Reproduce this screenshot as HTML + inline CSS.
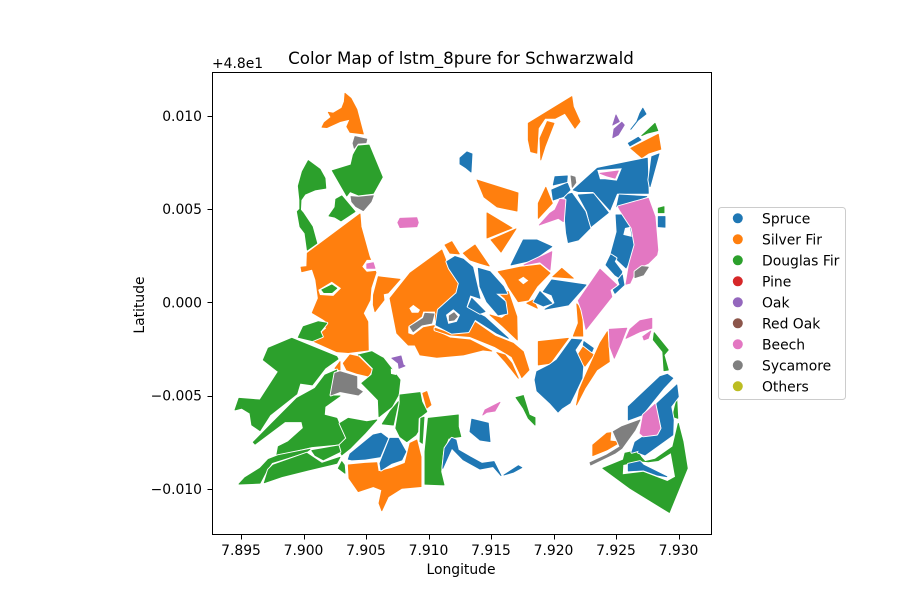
<!DOCTYPE html>
<html lang="en">
<head>
<meta charset="utf-8">
<title>Color Map of lstm_8pure for Schwarzwald</title>
<style>
html,body{margin:0;padding:0;background:#fff;}
#chart{display:block;width:900px;height:600px;font-family:"DejaVu Sans","Liberation Sans",sans-serif;fill:#000;}
.stand-edge{fill:none;stroke:#fff;stroke-width:2.8;stroke-linejoin:round;}
.stand{stroke-width:0.9;stroke-linejoin:round;}
.clearing{fill:#fff;stroke:none;}
</style>
</head>
<body>
<svg id="chart" xmlns="http://www.w3.org/2000/svg" width="900" height="600" viewBox="0 0 900 600">
  <g id="stands"></g>
  <rect x="212.5" y="72.5" width="499" height="462" fill="none" stroke="#000" stroke-width="1"/>
  <g id="ticks"></g>
  <text x="461" y="64" font-size="16.67" text-anchor="middle">Color Map of lstm_8pure for Schwarzwald</text>
  <text x="461" y="574" font-size="13.9" text-anchor="middle">Longitude</text>
  <text x="144" y="305" font-size="13.9" text-anchor="middle" transform="rotate(-90 144 305)">Latitude</text>
  <text x="212" y="68" font-size="13.9">+4.8e1</text>
  <g id="legend">
    <rect x="718.5" y="207.5" width="127" height="192" rx="3" ry="3" fill="#fff" stroke="#ccc" stroke-width="1"/>
  </g>
</svg>
<script>
/* All coordinates below are in thousandths of a degree:
   longitude offset from 7.900, latitude offset from 48.000, as flat lon,lat lists. */
const categories = ["Spruce","Silver Fir","Douglas Fir","Pine","Oak","Red Oak","Beech","Sycamore","Others"];
const categoryColors = ["#1f77b4","#ff7f0e","#2ca02c","#d62728","#9467bd","#8c564b","#e377c2","#7f7f7f","#bcbd22"];
const xTicks = [-5,0,5,10,15,20,25,30];
const xTickLabels = ["7.895","7.900","7.905","7.910","7.915","7.920","7.925","7.930"];
const yTicks = [-10,-5,0,5,10];
const yTickLabels = ["\u22120.010","\u22120.005","0.000","0.005","0.010"];
const xDomain = [-7.32,32.6];
const yDomain = [-12.41,12.35];

const silverFir = [
[3.32,11.21,3.80,10.94,4.26,10.35,4.78,9.03,3.72,9.12,3.46,9.42,3.72,9.82,2.92,9.69,1.86,9.37,1.48,9.39,1.66,9.64,2.20,9.93,1.98,10.19,2.38,10.14,3.06,10.41,3.26,10.76],
[4.52,4.74,4.60,4.06,5.26,2.45,5.80,1.60,5.40,0.78,5.32,0.13,4.78,-0.58,5.14,-1.03,5.18,-2.55,3.58,-2.69,2.66,-2.64,0.70,-2.05,1.86,-1.38,1.46,-1.12,1.86,-1.03,1.58,-0.90,0.70,-0.55,1.18,0.22,0.98,1.21,0.70,1.78,-0.14,1.65,-0.20,1.89,0.26,1.92,0.30,2.64],
[5.98,1.38,7.72,1.24,6.76,0.51,6.38,0.46,6.44,0.13,5.72,-0.49,5.58,-0.13,5.60,0.40],
[11.06,2.81,11.32,2.37,11.58,1.83,12.38,1.03,12.12,0.40,10.66,-0.67,10.38,-1.47,11.72,-1.90,13.32,-2.01,15.06,-2.60,14.38,-2.55,12.78,-2.81,10.66,-2.94,9.32,-2.81,8.92,-2.28,8.38,-2.28,7.46,-1.65,6.92,0.22,8.52,1.57],
[10.52,-1.38,11.86,-1.69,13.10,-1.62,13.66,-1.03,15.32,-1.80,16.78,-2.19,17.58,-2.64,18.04,-3.62,17.46,-4.03,16.66,-2.91,15.32,-2.37,13.32,-1.83,11.72,-1.74,10.52,-1.47],
[15.46,-2.69,16.12,-2.81,16.66,-3.26,17.18,-4.06,16.66,-3.62,16.12,-3.17],
[11.32,3.08,11.86,3.26,12.46,2.60,11.72,2.64],
[12.78,2.64,13.72,3.08,14.86,1.96,14.12,2.10,13.32,2.28],
[15.46,0.58,16.38,0.58,17.06,-0.76,17.10,-2.01,15.98,-1.30,14.92,-0.67,15.86,-0.85,16.38,-0.58,16.12,0.22],
[13.88,6.56,17.16,5.87,17.08,4.90,15.48,5.12,14.44,5.65],
[14.68,4.80,16.68,3.99,14.68,3.46],
[17.0,3.94,15.8,2.70,15.0,3.35],
[15.58,1.65,17.32,1.89,18.92,2.01,19.72,1.57,18.66,0.85,17.98,0.13,17.18,0.04,16.38,0.85,16.12,1.21],
[19.94,1.38,20.66,1.83,21.58,1.30],
[17.86,-0.04,18.38,0.13,18.70,-0.31],
[18.78,-2.10,21.18,-1.92,19.72,-3.26,18.78,-3.35],
[21.86,-2.91,22.38,-2.37,23.18,-2.81,22.52,-3.41],
[24.30,-1.57,24.46,-3.17,23.46,-3.62,22.52,-4.60,21.84,-5.49,22.06,-4.69,22.52,-3.98,23.72,-2.19],
[21.86,-0.08,22.26,-0.40,22.34,-1.80,21.58,-1.80,21.98,-1.11],
[17.98,9.60,21.46,11.03,21.58,10.49,22.12,9.69,21.72,9.34,20.92,10.14,20.12,9.87,19.32,9.87,18.78,9.34,18.66,8.00,18.18,8.08,17.98,8.71],
[19.50,9.69,20.04,9.60,19.32,8.35,18.98,7.64,18.92,8.80],
[28.38,9.01,28.58,8.21,27.58,8.00,27.06,7.76,26.18,8.26],
[19.38,6.17,19.90,5.32,18.78,4.51,18.78,5.32],
[23.14,-7.64,24.26,-7.01,24.58,-6.98,24.52,-7.42,25.32,-7.49,24.26,-7.91,23.14,-8.21],
[1.58,-2.87,2.46,-3.17,1.86,-3.53,1.58,-3.26],
[2.52,-3.53,2.92,-3.17,2.92,-3.62],
[3.18,-3.26,3.72,-2.81,4.38,-2.91,5.46,-3.62,5.18,-3.94,4.26,-3.80,3.46,-3.62],
[3.58,-8.71,4.92,-8.62,5.86,-8.59,5.98,-9.07,7.06,-8.89,8.12,-8.62,8.52,-7.55,9.06,-7.37,9.40,-8.27,9.40,-9.87,7.86,-9.96,6.78,-10.41,6.26,-11.16,6.04,-10.76,6.26,-10.05,5.58,-9.87,4.38,-10.14,3.64,-9.42],
[9.54,-4.87,9.86,-4.78,10.20,-5.49,9.86,-5.67]
];
const silverFirClearings = [
[4.70,1.92,5.06,2.28,5.72,2.28,5.86,1.70,5.06,1.65],
[1.18,0.67,2.26,1.11,3.0,0.76,2.38,0.35,1.32,0.40],
[8.38,-1.30,9.46,-0.76,9.58,-0.49,10.52,-0.49,10.52,-1.21,9.58,-1.33,8.78,-1.74,8.38,-1.65],
[8.46,-0.31,8.78,-0.13,9.32,-0.40,9.18,-0.55,8.66,-0.55],
[17.18,1.21,17.58,1.38,17.98,1.17,17.58,0.98]
];
const douglasFir = [
[4.38,8.39,5.24,8.43,6.30,6.71,5.58,5.85,4.38,5.76,3.72,5.94,3.46,5.71,2.30,7.06,3.80,7.37,3.98,7.91],
[3.06,5.71,4.12,4.87,3.0,4.37,2.52,4.57,2.04,4.64,2.52,5.10,2.58,5.53],
[0.38,7.60,1.32,7.14,1.72,6.66,1.78,6.12,0.92,6.03,0.12,5.80,-0.20,5.49,-0.24,4.96,-0.02,4.78,0.70,4.06,1.06,3.17,0.30,2.81,0.12,3.71,-0.28,4.06,-0.50,4.87,-0.30,5.01,-0.30,5.49,-0.42,6.24,-0.10,7.01],
[1.46,0.67,2.26,0.94,2.66,0.76,2.26,0.53,1.64,0.53],
[-0.42,-1.87,-0.02,-1.30,1.18,-1.03,1.86,-1.11,1.32,-1.57,1.50,-1.83,0.70,-2.05],
[-0.94,-1.92,2.66,-2.91,2.76,-3.03,1.72,-3.53,0.70,-4.42,-0.28,-4.33,-0.54,-4.90,-2.68,-6.03,-3.48,-6.87,-4.14,-6.57,-4.28,-5.94,-4.94,-5.67,-5.48,-5.76,-5.16,-5.14,-3.48,-5.23,-2.02,-3.71,-3.22,-3.08,-2.82,-2.45],
[2.66,-3.62,2.04,-5.01,2.92,-5.01,1.72,-5.58,1.66,-6.03,2.66,-6.21,3.32,-7.28,2.78,-7.60,0.66,-7.73,-2.14,-8.17,-2.02,-7.73,-1.22,-7.46,-0.02,-6.74,-0.14,-6.39,-1.48,-6.39,-3.88,-7.59,-4.02,-7.49,-2.54,-6.48,-0.54,-5.14,0.92,-4.60,1.72,-3.89],
[2.92,-6.48,3.58,-6.21,5.06,-6.39,5.86,-6.30,4.92,-7.01,3.72,-7.82,3.06,-8.17,2.78,-7.73,3.46,-7.28],
[-5.16,-9.73,-4.68,-9.39,-3.48,-8.89,-2.82,-8.41,-2.02,-8.21,0.52,-7.87,0.26,-8.0,-2.54,-8.59,-2.94,-8.98,-3.48,-9.69],
[-3.14,-9.66,-2.82,-8.98,-2.42,-8.71,0.26,-8.08,1.46,-8.62,2.92,-8.30,2.66,-8.62,0.38,-8.98,-1.74,-9.34],
[0.66,-7.94,2.78,-7.69,2.92,-8.0,1.58,-8.44,0.92,-8.19],
[3.06,-8.53,3.26,-8.71,3.32,-9.15,2.78,-8.89],
[4.38,-2.81,5.46,-2.64,6.38,-2.99,6.92,-3.44,7.72,-4.15,7.58,-4.96,7.06,-5.58,6.04,-6.12,5.98,-5.23,5.46,-4.87,4.66,-4.33,5.46,-3.89,5.58,-3.53,4.52,-2.81],
[7.72,-4.96,9.32,-4.83,9.46,-5.32,9.86,-5.85,9.18,-6.21,9.14,-6.92,8.98,-7.10,8.26,-7.46,7.72,-7.19,7.38,-6.74,7.72,-5.40],
[7.58,-5.32,7.18,-6.57,6.30,-6.51,6.92,-5.85],
[9.38,-6.21,9.64,-6.15,9.50,-7.55,9.32,-7.46],
[9.98,-6.21,12.38,-6.03,12.38,-6.66,12.58,-7.19,11.58,-7.28,11.14,-8.0,10.98,-9.07,11.24,-9.78,9.72,-9.74,9.72,-8.0],
[17.0,-5.10,17.58,-4.99,18.06,-6.03,18.52,-6.17,18.52,-6.57,17.98,-6.21,17.58,-5.67],
[28.12,9.60,28.34,9.21,27.50,9.07,27.06,8.94,27.50,9.21],
[28.38,5.05,28.84,5.13,28.84,4.81,28.38,4.81],
[28.06,-1.62,29.18,-2.55,28.84,-2.81,29.18,-3.62,28.84,-3.66,28.74,-2.64,27.98,-2.01],
[29.86,-5.23,29.94,-6.21,29.54,-6.12,29.72,-5.58],
[29.98,-6.48,30.36,-7.46,30.70,-8.89,29.26,-11.25,26.12,-9.96,23.94,-8.89,25.58,-8.44,25.72,-8.08,26.66,-7.94,26.98,-8.27,27.32,-8.53,28.12,-8.40,29.54,-7.73]
];
const douglasFirClearings = [
[25.58,-8.71,25.54,-9.21,27.18,-9.07,29.10,-9.57,29.72,-9.34,29.38,-8.08,28.38,-8.50,27.58,-8.57,27.06,-8.53,26.78,-8.53],
[6.98,-3.54,7.56,-3.72,7.40,-3.89,7.0,-3.83]
];
const spruce = [
[11.46,2.19,12.12,2.46,12.78,2.32,13.54,1.89,13.86,0.94,14.12,0.22,13.32,0.40,13.0,-0.26,14.52,-0.79,16.38,-1.92,15.46,-1.65,13.72,-0.90,13.18,-1.57,11.86,-1.65,10.60,-1.21,10.78,-0.40,12.26,0.49,12.46,1.03,11.66,1.83],
[13.46,0.22,14.52,-0.49,14.12,-0.58,13.18,-0.23],
[13.98,1.83,14.92,1.65,15.98,0.85,16.26,0.49,15.32,0.49,16.12,0.04,16.26,-0.58,15.58,-0.67,14.66,0.04,14.12,0.85],
[12.52,7.74,13.08,8.07,13.48,7.96,13.40,6.99,13.0,7.21,12.52,7.42],
[16.60,2.01,17.58,3.35,18.66,3.35,19.86,2.99,18.38,2.28],
[19.18,0.58,19.86,1.21,22.60,0.94,21.18,-0.13,19.32,-0.36,20.12,-0.04,19.86,0.40],
[18.44,0.04,18.92,0.58,19.86,-0.04,19.18,-0.19],
[18.66,-3.71,19.72,-3.35,20.26,-3.08,21.46,-1.97,22.26,-2.01,21.72,-2.55,22.34,-3.44,22.28,-4.05,21.72,-4.85,21.32,-5.39,20.68,-5.66,20.36,-5.87,19.72,-5.39,18.68,-4.74,18.52,-4.15],
[22.44,-2.10,23.18,-2.45,23.06,-2.64,22.38,-2.28],
[25.0,4.69,25.48,4.69,26.28,3.89,26.52,3.08,26.20,2.39,25.80,1.85,24.60,2.60,25.08,3.78],
[24.2,2.01,24.58,2.55,25.0,2.37,24.86,2.19,25.46,1.65,25.32,1.30,24.92,1.47],
[25.18,1.21,25.50,1.47,25.64,0.94,24.92,0.49,24.78,0.67,25.32,0.94],
[27.14,10.41,27.40,10.10,26.78,9.78,26.18,9.28,26.66,9.69,26.92,10.14],
[26.78,8.85,27.0,8.71,26.12,8.39,25.98,8.53],
[21.58,6.03,23.50,7.19,27.50,7.73,27.58,5.85,25.06,5.85,24.52,4.96,23.18,5.94,21.98,5.94],
[21.98,5.76,23.18,5.81,24.38,4.81,22.98,4.06,22.70,4.87],
[25.06,5.13,25.26,5.76,27.46,5.67,25.58,5.23],
[27.86,7.81,28.44,7.96,27.72,6.21,27.62,6.57],
[20.92,5.76,21.46,5.85,22.52,4.87,22.92,3.98,21.98,3.35,21.18,3.21,21.04,3.71,20.92,4.60],
[19.86,6.03,21.10,6.39,21.32,6.03,20.78,5.67,19.98,5.49],
[20.12,6.74,21.10,6.78,21.06,6.47,19.98,6.30],
[28.38,4.60,28.92,4.60,28.92,4.03,28.38,4.06],
[25.98,-5.58,28.52,-3.98,29.10,-3.85,29.54,-4.06,28.78,-4.60,27.06,-6.03,25.98,-6.30],
[28.30,-5.40,29.86,-4.42,29.98,-5.05,29.38,-5.58,29.58,-6.30,29.54,-7.10,27.32,-8.17,26.78,-8.03,26.92,-7.91,26.26,-8.03,26.52,-7.49,27.18,-7.19,28.38,-7.01,28.66,-6.74,28.20,-5.49],
[25.98,-8.67,26.92,-8.53,27.18,-8.71,29.06,-9.34,28.26,-9.25,27.18,-8.98,25.98,-9.03],
[11.14,-8.89,11.32,-7.81,11.86,-7.28,12.20,-7.37,12.38,-7.91,13.32,-8.27,14.26,-8.62,15.24,-8.53,15.80,-9.28,15.18,-8.80,14.12,-8.93,12.78,-8.44,11.86,-7.81],
[16.04,-9.25,17.18,-8.75,17.46,-8.85,16.78,-9.10],
[13.46,-6.26,14.78,-6.47,14.92,-7.46,14.12,-7.37,13.32,-6.92],
[3.58,-8.40,3.72,-8.12,5.58,-7.10,6.20,-7.01,6.74,-7.28,6.12,-8.27,4.92,-8.40,3.86,-8.44],
[6.12,-8.62,6.92,-7.28,7.58,-7.28,8.18,-8.0,7.86,-8.44,7.06,-8.62,6.20,-8.98]
];
const spruceClearings = [
[11.40,-0.67,11.98,-0.37,12.52,-0.67,12.26,-1.03,11.58,-1.15],
[25.72,3.99,26.12,4.05,26.26,3.51,25.58,3.62],
[23.50,7.10,25.46,7.19,25.06,6.53,24.12,6.60,23.72,6.60]
];
const oak = [
[7.06,-2.99,7.80,-2.87,7.98,-3.35,8.12,-3.40,7.64,-3.53,7.58,-3.26],
[25.0,10.05,25.26,9.69,24.74,9.51],
[25.46,9.66,25.66,9.51,25.18,8.98,24.74,8.83,24.84,9.29]
];
const beech = [
[5.06,2.06,5.58,2.13,5.72,1.83,5.06,1.83],
[7.72,4.51,9.06,4.54,9.18,4.28,9.06,4.06,7.72,4.01,7.54,4.28],
[17.64,2.01,19.86,2.72,19.72,1.74,18.92,2.17],
[20.52,5.53,20.92,5.49,20.78,4.33,20.38,4.51,18.86,4.15,19.72,4.78,20.12,4.96],
[21.98,0.10,23.72,1.78,25.06,0.94,24.52,0.67,24.66,0.31,22.60,-1.44,22.26,-0.40],
[24.46,-1.44,25.86,-1.38,25.40,-2.19,24.86,-2.99,24.52,-2.37],
[25.80,-1.92,26.12,-1.44,26.92,-0.98,27.86,-0.85,27.86,-1.38,26.92,-1.57],
[27.14,-1.83,27.78,-1.53,27.58,-1.92,27.24,-2.01],
[25.18,5.13,27.58,5.58,28.12,4.60,28.34,2.81,28.26,2.55,27.58,2.10,26.66,1.83,26.12,1.03,25.80,0.98,26.06,2.01,26.52,3.08,26.28,3.99,25.32,4.96],
[23.72,6.92,25.18,7.05,24.92,6.66,24.26,6.78],
[14.34,-6.03,14.52,-5.76,15.72,-5.35,15.32,-5.82,14.66,-5.89],
[28.12,-5.46,28.52,-6.74,28.26,-7.06,27.18,-7.15,26.92,-7.01,27.18,-6.03]
];
const sycamore = [
[4.12,8.89,5.06,8.75,5.0,8.56,4.34,8.53,4.06,8.26,3.96,8.53],
[3.80,5.67,4.38,5.64,5.58,5.72,5.40,5.40,4.78,4.92,4.18,5.14,3.86,5.40],
[21.40,6.78,21.72,6.71,21.78,6.42,21.50,6.17],
[8.52,-1.30,9.58,-0.85,9.72,-0.58,10.44,-0.62,10.26,-1.11,9.46,-1.21,8.78,-1.57],
[11.66,-0.72,12.04,-0.55,12.30,-0.76,12.04,-0.94,11.66,-0.98],
[2.52,-3.80,2.92,-3.71,4.26,-3.98,4.26,-4.60,4.70,-4.78,4.38,-4.96,2.92,-4.78,2.20,-4.96],
[26.52,1.65,27.06,1.92,27.58,1.89,27.18,1.47,26.52,1.33],
[26.92,-6.30,26.52,-6.84,25.46,-7.82,24.92,-8.08,22.98,-8.71,22.92,-8.59,24.26,-8.17,25.32,-7.73,24.78,-6.92,25.46,-6.66]
];

const SVG_NS = "http://www.w3.org/2000/svg";
const plotLeft = 212, plotRight = 711, plotTop = 72, plotBottom = 534;
function xScale(v){ return plotLeft + (v - xDomain[0]) / (xDomain[1] - xDomain[0]) * (plotRight - plotLeft); }
function yScale(v){ return plotBottom - (v - yDomain[0]) / (yDomain[1] - yDomain[0]) * (plotBottom - plotTop); }

const standsLayer = document.getElementById("stands");
function drawShapes(list, color, label){
  list.forEach(function(flat){
    const pts = [];
    for (let i = 0; i < flat.length; i += 2) {
      pts.push(xScale(flat[i]).toFixed(1) + "," + yScale(flat[i + 1]).toFixed(1));
    }
    const joined = pts.join(" ");
    if (color) {
      const edge = document.createElementNS(SVG_NS, "polygon");
      edge.setAttribute("points", joined);
      edge.setAttribute("class", "stand-edge");
      
      
      standsLayer.appendChild(edge);
    }
    const el = document.createElementNS(SVG_NS, "polygon");
    el.setAttribute("points", joined);
    if (color) {
      el.setAttribute("class", "stand");
      el.setAttribute("fill", color);
      el.setAttribute("stroke", color);
    } else {
      el.setAttribute("class", "clearing");
    }
    
    
    standsLayer.appendChild(el);
  });
}
drawShapes(silverFir, categoryColors[1], "silver-fir-stand");
drawShapes(silverFirClearings, null, "clearing");
drawShapes(douglasFir, categoryColors[2], "douglas-fir-stand");
drawShapes(douglasFirClearings, null, "clearing");
drawShapes(spruce, categoryColors[0], "spruce-stand");
drawShapes(spruceClearings, null, "clearing");
drawShapes(oak, categoryColors[4], "oak-stand");
drawShapes(beech, categoryColors[6], "beech-stand");
drawShapes(sycamore, categoryColors[7], "sycamore-stand");

const ticksLayer = document.getElementById("ticks");
xTicks.forEach(function(v, i){
  const px = Math.round(xScale(v)) + 0.5;
  const line = document.createElementNS(SVG_NS, "line");
  line.setAttribute("x1", px); line.setAttribute("x2", px);
  line.setAttribute("y1", plotBottom + 0.5); line.setAttribute("y2", plotBottom + 5.5);
  line.setAttribute("stroke", "#000");
  
  
  ticksLayer.appendChild(line);
  const t = document.createElementNS(SVG_NS, "text");
  t.setAttribute("x", xScale(v)); t.setAttribute("y", 555);
  t.setAttribute("font-size", "13.9");
  t.setAttribute("text-anchor", "middle");
  t.textContent = xTickLabels[i];
  
  
  ticksLayer.appendChild(t);
});
yTicks.forEach(function(v, i){
  const py = Math.round(yScale(v)) + 0.5;
  const line = document.createElementNS(SVG_NS, "line");
  line.setAttribute("x1", plotLeft - 4.5); line.setAttribute("x2", plotLeft + 0.5);
  line.setAttribute("y1", py); line.setAttribute("y2", py);
  line.setAttribute("stroke", "#000");
  
  
  ticksLayer.appendChild(line);
  const t = document.createElementNS(SVG_NS, "text");
  t.setAttribute("x", 202); t.setAttribute("y", yScale(v) + 5);
  t.setAttribute("font-size", "13.9");
  t.setAttribute("text-anchor", "end");
  t.textContent = yTickLabels[i];
  
  
  ticksLayer.appendChild(t);
});

const legendLayer = document.getElementById("legend");
categories.forEach(function(name, i){
  const cy = 218.3 + i * 21;
  const dot = document.createElementNS(SVG_NS, "circle");
  dot.setAttribute("cx", 737.8); dot.setAttribute("cy", cy); dot.setAttribute("r", 5);
  dot.setAttribute("fill", categoryColors[i]);
  
  
  legendLayer.appendChild(dot);
  const t = document.createElementNS(SVG_NS, "text");
  t.setAttribute("x", 762); t.setAttribute("y", cy + 5);
  t.setAttribute("font-size", "13.9");
  t.textContent = name;
  
  
  legendLayer.appendChild(t);
});
</script>
</body>
</html>
